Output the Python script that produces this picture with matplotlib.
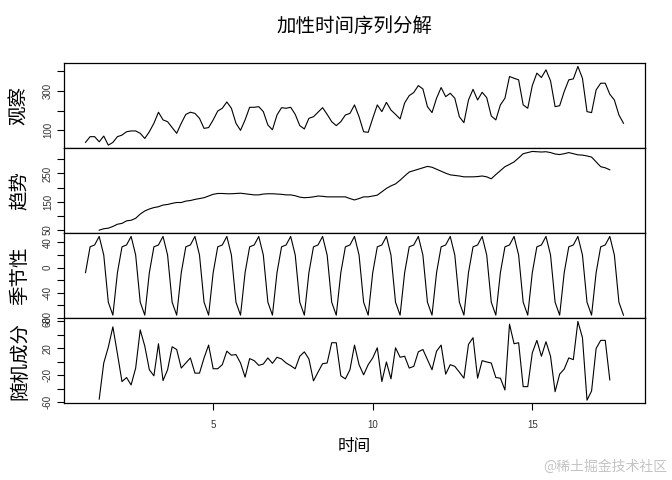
import numpy as np
import matplotlib
matplotlib.use("Agg")
from matplotlib import pyplot as plt

plt.rcParams['font.family'] = ['Noto Sans CJK SC', 'DejaVu Sans']

# Series: 7 observations per time unit, starting at time 1
freq = 7
start = 1

observed = [39, 68, 68, 42, 71, 25, 39, 68, 76, 93,
            97, 97, 85, 59, 93, 136, 192, 153, 144, 114,
            85, 136, 181, 192, 186, 161, 110, 114, 153, 198,
            212, 244, 212, 136, 100, 153, 217, 217, 220, 195,
            127, 103, 178, 215, 212, 217, 181, 124, 107, 161,
            169, 192, 215, 181, 144, 124, 144, 178, 186, 229,
            169, 93, 90, 161, 229, 195, 242, 203, 181, 158,
            239, 276, 292, 327, 310, 220, 190, 263, 317, 271,
            288, 263, 169, 139, 254, 308, 254, 293, 266, 173,
            153, 229, 263, 373, 364, 356, 229, 212, 327, 390,
            368, 407, 351, 220, 225, 297, 356, 361, 424, 364,
            195, 190, 305, 339, 339, 283, 254, 178, 136]

# trend and remainder are missing for the first and last 3 points
trend = [49, 54, 56, 62, 70, 73, 82, 84, 91, 106,
         117, 124, 129, 132, 138, 140, 144, 147, 147, 152,
         154, 158, 161, 164, 170, 176, 179, 179, 178, 178,
         179, 180, 178, 176, 174, 174, 177, 178, 178, 177,
         176, 174, 174, 171, 166, 164, 165, 167, 170, 169,
         167, 167, 167, 167, 167, 161, 156, 161, 167, 167,
         170, 173, 185, 197, 206, 213, 226, 241, 255, 260,
         265, 270, 275, 272, 265, 258, 251, 245, 243, 241,
         238, 238, 238, 239, 241, 238, 231, 246, 260, 274,
         282, 291, 305, 320, 324, 328, 327, 326, 327, 324,
         319, 317, 320, 324, 320, 316, 315, 312, 308, 291,
         274, 270, 263]

seasonal_figure = [-8, 33, 36, 49.5, 20, -55, -75.5]

remainder = [-55.5, -2, 21.5, 51.5, 11.5, -29.5, -23.5, -34.5, -9.5, 47,
             23, -12, -21, 26.5, -28, -12, 22, 18, -9.5, -2,
             5.5, -17, -17, 5.5, 24.5, -10.5, -10.5, -4.5, 15.5, 9.5,
             10.5, -2, -23, 4.5, 1.5, -5.5, -3.5, 5.5, -2.5, 6.5,
             4, -2, -6, -10.5, 8, 14.5, 4, -28.5, -15.5, -3,
             -2, 28, 28, -21, -25.5, -12, 24.5, -4.5, -19.5, -4.5,
             5.5, 20.5, -29.5, -0.5, -25.5, 20.5, 6.5, 8, -9.5, -7,
             14.5, 18, 3, -12, 15.5, 24.5, -18.5, -4.5, -7, -15.5,
             -24.5, 25.5, 35.5, -24.5, 1.5, -0.5, -2, -23.5, -24.5, -42,
             55.5, 26.5, 28, -37, -37, 13, 31.5, 8, 29.5, 8,
             -44.5, -18.5, -11, 5.5, 3, 59.5, 35.5, -57, -43.5, 19.5,
             31.5, 31.5, -27]

panel_names = ['观察', '趋势', '季节性', '随机成分']
panel_ticks = [[100, 200, 300, 400],
               [50, 100, 150, 200, 250, 300],
               [-80, -60, -40, -20, 0, 20, 40],
               [-60, -40, -20, 0, 20, 40, 60]]
panel_ticklabels = [['100', '', '300', ''],
                    ['50', '', '150', '', '250', ''],
                    ['-80', '', '-40', '', '0', '', '40'],
                    ['-60', '', '-20', '', '20', '', '60']]

n = len(observed)
t = start + np.arange(n) / freq
t_mid = t[3:n - 3]
seasonal = np.tile(seasonal_figure, n // freq + 1)[:n]

series = [(t, observed), (t_mid, trend), (t, seasonal), (t_mid, remainder)]

fig = plt.figure(figsize=(6.72, 4.8), dpi=100)
left, width = 64 / 672, 581 / 672
top, h = 63.3 / 480, 85 / 480

axes = []
for i, (xs, ys) in enumerate(series):
    bottom = 1 - top - (i + 1) * h
    ax = fig.add_axes([left, bottom, width, h])
    ax.plot(xs, ys, color='black', linewidth=0.8)
    ax.set_xlim(t[0] - 0.04 * (t[-1] - t[0]), t[-1] + 0.04 * (t[-1] - t[0]))
    ax.margins(y=0.04)
    ax.set_yticks(panel_ticks[i])
    ax.set_yticklabels(panel_ticklabels[i], family='Liberation Sans', fontsize=7, color='#333333')
    ax.tick_params(axis='y', length=5, width=0.8, pad=3, labelrotation=90)
    for lab in ax.get_yticklabels():
        lab.set_va('center')
    ax.set_ylabel(panel_names[i], fontsize=14, va='center')
    ax.yaxis.set_label_coords(-0.076, 0.5)
    for sp in ax.spines.values():
        sp.set_linewidth(0.9)
    if i < 3:
        ax.set_xticks([])
    else:
        ax.set_xticks([5, 10, 15])
        ax.set_xticklabels(['5', '10', '15'], family='Liberation Sans', fontsize=7, color='#333333')
        ax.tick_params(axis='x', length=5, width=0.8, pad=7)
        ax.set_xlabel('时间', fontsize=12, labelpad=6)
    axes.append(ax)

fig.text(left + width / 2, 1 - 26 / 480, '加性时间序列分解', ha='center', va='center', fontsize=14)
fig.text(0.993, 1 - 467 / 480, '@稀土掘金技术社区', ha='right', va='center', fontsize=10, color='#c4c4c4')

fig.savefig('out.png', dpi=100)
